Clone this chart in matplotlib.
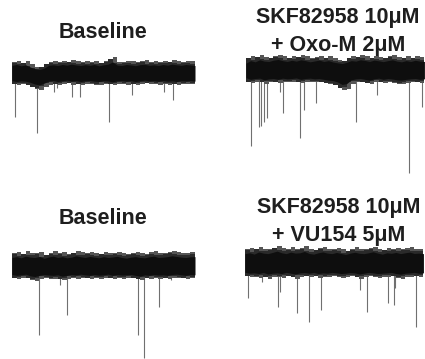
import numpy as np
import matplotlib
matplotlib.use("Agg")
import matplotlib.pyplot as plt

plt.rcParams['font.family'] = ['Liberation Sans', 'DejaVu Sans']

W, H = 425, 359
DT = 0.25  # s between envelope samples

# ---------------- data (time in s, current in pA) ----------------
# Top-left: Baseline
tl_top = [45, 50, 42, 48, 35, 25, 20, 28, 45, 48, 44, 50, 46, 52, 47, 44, 49, 45, 50, 42, 48,
          52, 65, 46, 44, 50, 47, 43, 49, 51, 45, 48, 44, 50, 46, 52, 48, 45, 50, 47, 44]
tl_bot = [-45, -50, -46, -48, -55, -65, -70, -60, -48, -44, -50, -46, -42, -48, -45, -50, -46,
          -44, -48, -50, -45, -47, -52, -46, -44, -48, -45, -50, -46, -42, -47, -45, -49, -44,
          -48, -46, -50, -45, -47, -44, -48]
tl_spk_t = [0.16, 1.37, 2.30, 2.46, 3.28, 3.72, 5.30, 6.56, 8.31, 8.80]
tl_spk_a = [220, 300, 95, 75, 120, 120, 245, 110, 95, 135]

# Top-right: SKF82958 10uM + Oxo-M 2uM
tr_top = [40, 55, 48, 60, 52, 50, 58, 62, 55, 50, 57, 52, 60, 55, 48, 53, 58, 50, 55, 47,
          42, 38, 45, 55, 52, 60, 56, 50, 58, 54, 49, 55, 60, 52, 48, 55, 50, 57, 52, 50]
tr_bot = [-45, -55, -50, -48, -58, -52, -50, -55, -48, -52, -50, -47, -55, -50, -48, -52, -50,
          -55, -60, -62, -70, -85, -80, -58, -52, -50, -55, -60, -52, -48, -55, -50, -53, -58,
          -60, -55, -52, -50, -55, -52]
tr_spk_t = [0.27, 0.71, 0.82, 0.98, 1.15, 1.86, 2.02, 2.95, 3.17, 3.83, 5.63, 6.01, 7.16, 8.91, 9.62]
tr_spk_a = [380, 285, 280, 260, 240, 110, 215, 340, 200, 165, 90, 260, 125, 515, 185]

# Bottom-left: Baseline
bl_top = [50, 55, 48, 58, 52, 50, 56, 45, 53, 58, 50, 55, 48, 52, 60, 54, 50, 56, 52, 48, 55,
          50, 53, 57, 50, 46, 52, 55, 50, 48, 54, 58, 50, 52, 55, 60, 56, 52, 50, 54, 55]
bl_bot = [-50, -55, -52, -48, -58, -62, -55, -50, -53, -55, -52, -60, -55, -50, -53, -48, -52,
          -55, -50, -54, -52, -48, -55, -50, -53, -52, -50, -55, -60, -52, -55, -50, -53, -52,
          -55, -50, -48, -52, -55, -50, -52]
bl_spk_t = [1.48, 2.62, 3.01, 6.89, 7.21, 8.03, 8.69]
bl_spk_a = [345, 95, 245, 345, 460, 205, 70]

# Bottom-right: SKF82958 10uM + VU154 5uM
br_top = [55, 60, 52, 65, 58, 55, 62, 70, 60, 55, 64, 58, 60, 68, 56, 52, 60, 65, 58, 55,
          62, 56, 50, 58, 63, 57, 55, 60, 66, 58, 52, 60, 57, 62, 55, 60, 64, 56, 58, 55]
br_bot = [-55, -60, -58, -62, -55, -65, -60, -58, -62, -55, -60, -65, -58, -56, -60, -55, -62,
          -58, -60, -55, -58, -62, -60, -56, -58, -65, -60, -55, -58, -62, -60, -58, -55, -62,
          -66, -60, -58, -55, -60, -58]
br_spk_t = [0.16, 0.93, 1.80, 1.91, 2.84, 3.50, 4.15, 6.28, 6.67, 7.81, 8.14, 8.20, 9.34]
br_spk_a = [175, 95, 220, 145, 250, 295, 235, 135, 245, 200, 210, 125, 320]

titles = [["Baseline"],
          ["SKF82958 10\u03bcM", "+ Oxo-M 2\u03bcM"],
          ["Baseline"],
          ["SKF82958 10\u03bcM", "+ VU154 5\u03bcM"]]

# ---------------- layout ----------------
PX_PER_S = 18.3
PA_PER_PX = 5.0
panels = [
    (12, 195, 73, tl_top, tl_bot, tl_spk_t, tl_spk_a),
    (246, 425, 70, tr_top, tr_bot, tr_spk_t, tr_spk_a),
    (12, 196, 266, bl_top, bl_bot, bl_spk_t, bl_spk_a),
    (245, 425, 263, br_top, br_bot, br_spk_t, br_spk_a),
]
title_x = [103, 338, 103, 339]
title_y = [[32], [18, 45], [219], [208, 235]]

fig = plt.figure(figsize=(W / 100, H / 100), dpi=100)
fig.patch.set_facecolor('white')

for (x0, x1, cy, top, bot, st, sa) in panels:
    ytop_ax, ybot_ax = cy - 30, cy + 110
    ax = fig.add_axes([x0 / W, 1 - ybot_ax / H, (x1 - x0) / W, (ybot_ax - ytop_ax) / H])
    ax.set_xlim(0, (x1 - x0) / PX_PER_S)
    ax.set_ylim(-(ybot_ax - cy) * PA_PER_PX, (cy - ytop_ax) * PA_PER_PX)
    ax.axis('off')
    t = np.arange(len(top)) * DT
    top = np.array(top, float)
    bot = np.array(bot, float)
    ax.vlines(st, 0, -np.array(sa), color='#707070', lw=0.8, zorder=1)
    # grey fringe and dense dark core of the noise band
    ax.fill_between(t, bot * 1.2, top * 1.25, step='post', color='#555555', lw=0, zorder=2)
    ax.fill_between(t, bot * 1.05, top * 1.05, step='pre', color='#2a2a2a', lw=0, zorder=3)
    ax.fill_between(t, bot * 0.85, top * 0.85, color='#0e0e0e', lw=0, zorder=4)

for x, ys, lines in zip(title_x, title_y, titles):
    for y, s in zip(ys, lines):
        fig.text(x / W, 1 - y / H, s, ha='center', va='center', fontsize=15.5,
                 fontweight='bold', color='#1e1e1e')

fig.savefig('out.png', dpi=100)
